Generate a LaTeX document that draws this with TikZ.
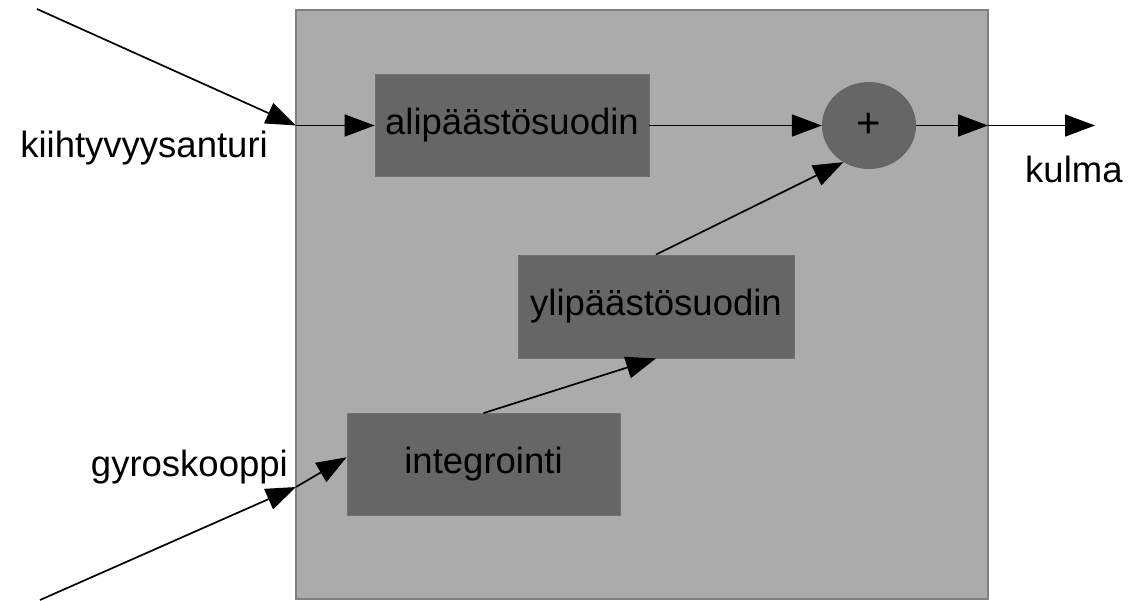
\documentclass[tikz,border=0pt]{standalone}
\usepackage{fontspec}
\setmainfont{Liberation Sans}
\usetikzlibrary{arrows.meta,shapes.geometric}
\definecolor{outerfill}{HTML}{ABABAB}
\definecolor{outerline}{HTML}{7F7F7F}
\definecolor{boxfill}{HTML}{666666}
\definecolor{boxline}{HTML}{707070}
\begin{document}
\begin{tikzpicture}[x=1pt,y=-1pt,
  font=\fontsize{36.5}{44}\selectfont,
  outer/.style={fill=outerfill, draw=outerline, line width=1.5pt, inner sep=0pt},
  blk/.style={fill=boxfill, draw=boxline, line width=0.8pt, inner sep=0pt,
              text height=26pt, text depth=7.7pt},
  sumnode/.style={ellipse, fill=boxfill, inner sep=0pt, font=\fontsize{42}{48}\selectfont},
  lbl/.style={inner sep=0pt},
  arr/.style={line width=1.7pt, -{Triangle[length=30pt,width=22pt]}}]
\clip (0,0) rectangle (1137,600);
\path[use as bounding box] (0,0) rectangle (1137,600);
\node[outer, minimum width=692pt, minimum height=589pt] (sys) at (642,304.5) {};
\node[blk, minimum width=274pt, minimum height=102pt] (alip) at (512,125.5) {alipäästösuodin};
\node[blk, minimum width=276pt, minimum height=103pt] (yli) at (656,306.5) {ylipäästösuodin};
\node[blk, minimum width=273pt, minimum height=102pt] (integ) at (483.5,464.5) {integrointi};
\node[sumnode, minimum width=94pt, minimum height=87pt] (plus) at (869,125.5) {+};
\node[lbl, anchor=base east] (kiih) at (268,157) {kiihtyvyysanturi};
\node[lbl, anchor=base east] (gyro) at (288,476) {gyroskooppi};
\node[lbl, anchor=base west] (kulma) at (1025,182) {kulma};
\coordinate (s1) at (37,9);
\coordinate (j1) at (296,125.5);
\coordinate (s2) at (40,600);
\coordinate (j2) at (296,487);
\coordinate (j3) at (988,125.5);
\coordinate (e) at (1095,125.5);
\draw[arr] (s1) -- (j1);
\draw[arr] (j1) -- (alip.west);
\draw[arr] (alip.east) -- (plus.west);
\draw[arr] (plus.east) -- (j3);
\draw[arr] (j3) -- (e);
\draw[arr] (s2) -- (j2);
\draw[arr] (j2) -- (integ.177);
\draw[arr] (integ.north) -- (yli.south);
\draw[arr] (yli.north) -- (plus.235);
\end{tikzpicture}
\end{document}
